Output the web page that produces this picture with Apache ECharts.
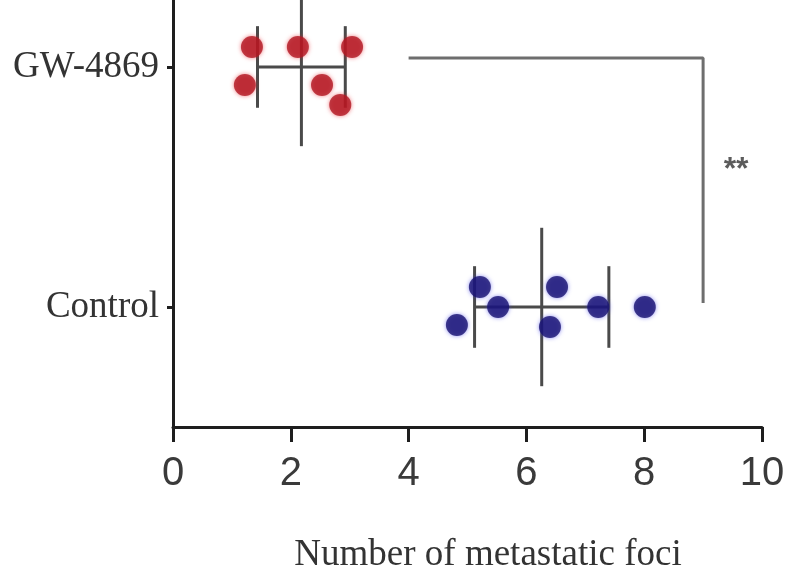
<!DOCTYPE html>
<html>
<head>
<meta charset="utf-8">
<script src="https://cdn.jsdelivr.net/npm/echarts@6/dist/echarts.min.js"></script>
<style>html,body{margin:0;padding:0;background:#fff}#c{width:788px;height:576px}</style>
</head>
<body>
<div id="c"></div>
<script>
// Categories (value-axis positions 1 and 2)
var categories = ['Control', 'GW-4869'];
var xTicks = [0, 2, 4, 6, 8, 10];

// GW-4869 points: x = metastatic foci, y = jitter position around 2
var gwX = [1.34, 1.22, 2.12, 3.04, 2.53, 2.84];
var gwY = [2.083, 1.925, 2.083, 2.083, 1.925, 1.842];
// Control points around 1
var ctrlX = [4.82, 5.21, 5.52, 6.52, 6.40, 7.22, 8.01];
var ctrlY = [0.925, 1.083, 1.0, 1.083, 0.917, 1.0, 1.0];

// Mean and SD per group
var means = [6.26, 2.18];   // Control, GW-4869
var sds = [1.14, 0.745];

// Significance bracket
var bracketX = [4.0, 9.0, 9.0];
var bracketY = [2.0375, 2.0375, 1.017];
var sigLabel = '**';
var sigPos = [9.56, 1.57];

var chart = echarts.init(document.getElementById('c'), null, {renderer: 'canvas'});

function pairs(xs, ys) { return xs.map(function (v, i) { return [v, ys[i]]; }); }

var errData = means.map(function (m, i) { return [m, sds[i], i + 1]; });

var option = {
  animation: false,
  backgroundColor: '#ffffff',
  grid: {left: 173, right: 26, top: 0, bottom: 149, containLabel: false, outerBoundsMode: 'none'},
  xAxis: {
    type: 'value', min: 0, max: 10, interval: 2,
    axisLine: {show: true, lineStyle: {color: '#1e1e1e', width: 3}},
    axisTick: {show: true, inside: false, length: 15, lineStyle: {color: '#1e1e1e', width: 3}},
    axisLabel: {
      margin: 27, color: '#3a3a3a', fontSize: 40,
      fontFamily: "'Liberation Sans Narrow', 'Arial Narrow', 'Liberation Sans', sans-serif",
      formatter: function (v) { return xTicks.indexOf(v) >= 0 ? String(v) : ''; }
    },
    splitLine: {show: false},
    name: 'Number of metastatic foci',
    nameLocation: 'middle', nameGap: 110,
    nameTextStyle: {color: '#333', fontSize: 37, fontFamily: "'Liberation Serif', 'Times New Roman', serif", padding: [0, 0, 0, 41]}
  },
  yAxis: {
    type: 'value', min: 0.5, max: 2.279,
    axisLine: {show: true, lineStyle: {color: '#1e1e1e', width: 3}},
    axisTick: {show: true, customValues: [1, 2], length: 6, lineStyle: {color: '#1e1e1e', width: 3}},
    axisLabel: {
      customValues: [1, 2], margin: 14, color: '#333', fontSize: 37,
      fontFamily: "'Liberation Serif', 'Times New Roman', serif",
      formatter: function (v) { return categories[Math.round(v) - 1]; }
    },
    splitLine: {show: false}
  },
  series: [
    {
      type: 'custom',
      data: errData,
      z: 3,
      renderItem: function (params, api) {
        var m = api.value(0), sd = api.value(1), yc = api.value(2);
        var lo = api.coord([m - sd, yc]);
        var hi = api.coord([m + sd, yc]);
        var mTop = api.coord([m, yc + 0.33]);
        var mBot = api.coord([m, yc - 0.33]);
        var capT = api.coord([m, yc + 0.17])[1];
        var capB = api.coord([m, yc - 0.17])[1];
        var st = {stroke: '#4a4a4a', lineWidth: 3};
        return {
          type: 'group',
          children: [
            {type: 'line', shape: {x1: lo[0], y1: lo[1], x2: hi[0], y2: hi[1]}, style: st},
            {type: 'line', shape: {x1: mTop[0], y1: mTop[1], x2: mBot[0], y2: mBot[1]}, style: st},
            {type: 'line', shape: {x1: lo[0], y1: capT, x2: lo[0], y2: capB}, style: st},
            {type: 'line', shape: {x1: hi[0], y1: capT, x2: hi[0], y2: capB}, style: st}
          ]
        };
      }
    },
    {
      type: 'scatter', data: pairs(gwX, gwY), symbolSize: 22, z: 4,
      itemStyle: {color: '#b01622', shadowBlur: 4, shadowColor: 'rgba(230,30,40,0.7)'}
    },
    {
      type: 'scatter', data: pairs(ctrlX, ctrlY), symbolSize: 22, z: 4,
      itemStyle: {color: '#17106e', shadowBlur: 4, shadowColor: 'rgba(60,60,230,0.7)'}
    },
    {
      type: 'line', data: pairs(bracketX, bracketY), symbol: 'none', z: 2,
      lineStyle: {color: '#6e6e6e', width: 3}
    },
    {
      type: 'scatter', data: [sigPos], symbolSize: 0, z: 5,
      label: {show: true, position: 'inside', formatter: sigLabel, color: '#333', fontSize: 32, fontWeight: 'bold',
        fontFamily: "'Liberation Sans', sans-serif"}
    }
  ]
};
chart.setOption(option);
</script>
</body>
</html>
